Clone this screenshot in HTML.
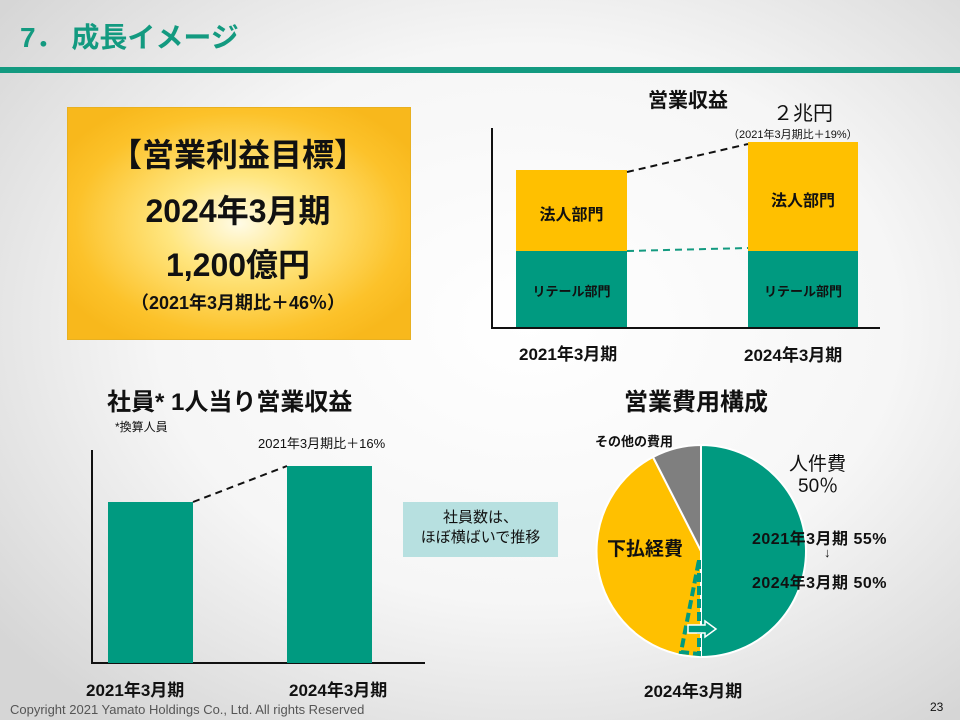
<!DOCTYPE html>
<html><head><meta charset="utf-8"><style>
*{margin:0;padding:0}
body{width:960px;height:720px;overflow:hidden;position:relative;font-family:"Liberation Sans","Noto Sans CJK JP",sans-serif;background:radial-gradient(ellipse 70% 70% at 55% 45%,#ffffff 0%,#f6f6f6 55%,#d6d6d6 100%);}
.t{position:absolute;white-space:nowrap;color:#111;font-weight:bold}
</style></head><body>
<div class="t" style="left:20px;top:16px;font-size:28px;color:#139a80">7．&nbsp;成長イメージ</div>
<div style="position:absolute;left:0;top:67px;width:960px;height:6px;background:#139a80"></div>
<div style="position:absolute;left:67px;top:107px;width:342px;height:231px;background:radial-gradient(ellipse 60% 60% at 50% 50%,#fffbe6 0%,#ffe680 35%,#fcc22a 80%,#f8b81c 100%);border:1px solid #e8b020"></div>
<div class="t" style="left:67px;top:130px;width:342px;text-align:center;font-size:32px">【営業利益目標】</div>
<div class="t" style="left:67px;top:186px;width:342px;text-align:center;font-size:32px">2024年3月期</div>
<div class="t" style="left:67px;top:240px;width:342px;text-align:center;font-size:32px">1,200億円</div>
<div class="t" style="left:67px;top:289px;width:342px;text-align:center;font-size:18px">（2021年3月期比＋46％）</div>

<svg style="position:absolute;left:0;top:0" width="960" height="720">
<line x1="492" y1="128" x2="492" y2="328" stroke="#111" stroke-width="2"/>
<line x1="491" y1="328" x2="880" y2="328" stroke="#111" stroke-width="2"/>
<rect x="516" y="170" width="111" height="81" fill="#ffc000"/>
<rect x="516" y="251" width="111" height="76" fill="#009a80"/>
<rect x="748" y="142" width="110" height="109" fill="#ffc000"/>
<rect x="748" y="251" width="110" height="76" fill="#009a80"/>
<line x1="627" y1="172" x2="748" y2="144" stroke="#111" stroke-width="2" stroke-dasharray="7,5"/>
<line x1="627" y1="251" x2="748" y2="248" stroke="#139a80" stroke-width="2" stroke-dasharray="7,5"/>
<line x1="92" y1="450" x2="92" y2="663" stroke="#111" stroke-width="2"/>
<line x1="91" y1="663" x2="425" y2="663" stroke="#111" stroke-width="2"/>
<rect x="108" y="502" width="85" height="161" fill="#009a80"/>
<rect x="287" y="466" width="85" height="197" fill="#009a80"/>
<line x1="193" y1="502" x2="287" y2="466" stroke="#111" stroke-width="2" stroke-dasharray="7,5"/>
<path d="M701,551 L701,445 A105,106 0 0 1 701,657 Z" fill="#009a80" stroke="#fff" stroke-width="2"/>
<path d="M701,551 L701,657 A105,106 0 0 1 653,457 Z" fill="#ffc000" stroke="#fff" stroke-width="2"/>
<path d="M701,551 L653,457 A105,106 0 0 1 701,445 Z" fill="#7f7f7f" stroke="#fff" stroke-width="2"/>
<path d="M699,560 L699,654 L681,652 Z" fill="#ffc000" stroke="#009a80" stroke-width="4" stroke-dasharray="9,4"/>
<path d="M688,625 L705,625 L705,621 L716,629 L705,637 L705,633 L688,633 Z" fill="#009a80" stroke="#fff" stroke-width="1.5"/>
</svg>

<div class="t" style="left:648px;top:84px;font-size:20px">営業収益</div>
<div class="t" style="left:773px;top:97px;font-size:20px;font-weight:normal">２兆円</div>
<div class="t" style="left:728px;top:126px;font-size:11px;font-weight:normal">（2021年3月期比＋19%）</div>
<div class="t" style="left:516px;top:201px;width:111px;text-align:center;font-size:16px">法人部門</div>
<div class="t" style="left:748px;top:187px;width:110px;text-align:center;font-size:16px">法人部門</div>
<div class="t" style="left:516px;top:281px;width:111px;text-align:center;font-size:13px">リテール部門</div>
<div class="t" style="left:748px;top:281px;width:110px;text-align:center;font-size:13px">リテール部門</div>
<div class="t" style="left:519px;top:340px;font-size:17px">2021年3月期</div>
<div class="t" style="left:744px;top:341px;font-size:17px">2024年3月期</div>

<div class="t" style="left:107px;top:382px;font-size:24px">社員* 1人当り営業収益</div>
<div class="t" style="left:115px;top:418px;font-size:12px;font-weight:normal">*換算人員</div>
<div class="t" style="left:258px;top:433px;font-size:13px;font-weight:normal">2021年3月期比＋16%</div>
<div class="t" style="left:86px;top:676px;font-size:17px">2021年3月期</div>
<div class="t" style="left:289px;top:676px;font-size:17px">2024年3月期</div>
<div style="position:absolute;left:403px;top:502px;width:155px;height:55px;background:#b7e0e0"></div>
<div class="t" style="left:403px;top:508px;width:155px;text-align:center;font-size:15px;font-weight:normal;line-height:20px">社員数は、<br>ほぼ横ばいで推移</div>

<div class="t" style="left:624px;top:382px;font-size:24px">営業費用構成</div>
<div class="t" style="left:595px;top:431px;font-size:13px">その他の費用</div>
<div class="t" style="left:789px;top:449px;font-size:19px;font-weight:normal">人件費</div>
<div class="t" style="left:798px;top:471px;font-size:19px;font-weight:normal">50％</div>
<div class="t" style="left:752px;top:525px;font-size:16px;letter-spacing:0.5px">2021年3月期 55%</div>
<div class="t" style="left:824px;top:545px;font-size:13px;font-weight:normal">↓</div>
<div class="t" style="left:752px;top:569px;font-size:16px;letter-spacing:0.5px">2024年3月期 50%</div>
<div class="t" style="left:607px;top:534px;font-size:19px">下払経費</div>
<div class="t" style="left:644px;top:677px;font-size:17px">2024年3月期</div>

<div class="t" style="left:10px;top:702px;font-size:13px;font-weight:normal;color:#555">Copyright 2021 Yamato Holdings Co., Ltd. All rights Reserved</div>
<div class="t" style="left:930px;top:700px;font-size:12px;font-weight:normal">23</div>
</body></html>
